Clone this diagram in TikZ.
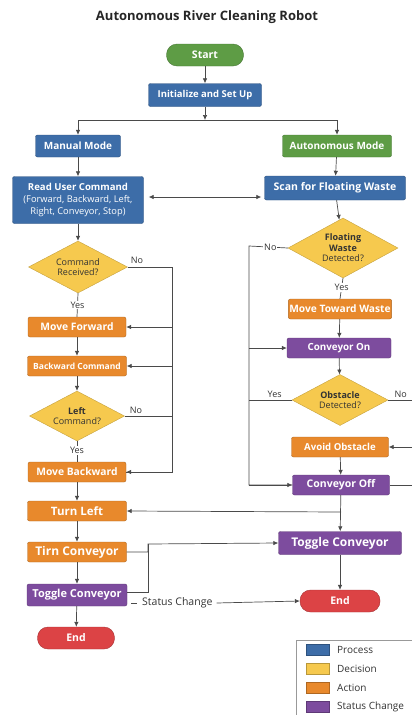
\documentclass[tikz,border=0pt]{standalone}
\usepackage{fontspec}
\setmainfont{Open Sans}
\usetikzlibrary{shapes.geometric,arrows.meta}
\definecolor{procblue}{HTML}{3D6DA8}
\definecolor{startgreen}{HTML}{5E9C45}
\definecolor{decyellow}{HTML}{F6C94E}
\definecolor{actorange}{HTML}{E8892C}
\definecolor{statpurple}{HTML}{7D4C9E}
\definecolor{endred}{HTML}{DC4345}
\definecolor{linegray}{HTML}{4A4A4A}
\newcommand{\fsz}[1]{\fontsize{#1}{#1}\selectfont}
\tikzset{
  boxbase/.style={draw=#1!75!black, fill=#1, rounded corners=2pt, text=white,
    inner sep=1pt, minimum height=20pt, align=center,
    font=\fsz{9.5}\bfseries},
  process/.style={boxbase=procblue},
  action/.style={boxbase=actorange},
  status/.style={boxbase=statpurple},
  terminal/.style={boxbase=#1, rounded corners=10.5pt, minimum height=22pt,
    font=\fsz{10.5}\bfseries},
  decision/.style={draw=decyellow!80!black, fill=decyellow, diamond, aspect=1.9,
    inner sep=0pt, text=black!80, align=center,
    font=\fontsize{9}{10.5}\selectfont},
  line/.style={draw=linegray, line width=0.7pt},
  arr/.style={line, -{Latex[length=5pt,width=4.5pt]}},
  tag/.style={text=black!80, font=\fsz{9}, inner sep=1pt}
}
\begin{document}
\begin{tikzpicture}[x=1pt, y=-1pt]
\useasboundingbox (0,0) rectangle (412,715);
\node[font=\fsz{13}\bfseries, text=black!85] (title) at (207,17) {Autonomous River Cleaning Robot};
% left column
\node[terminal=startgreen, minimum width=77pt] (start) at (205,55) {Start};
\node[process, minimum width=113pt, minimum height=23pt] (init) at (205,95) {Initialize and Set Up};
\coordinate (split) at (205,120);
\node[process, minimum width=85pt, minimum height=22pt, font=\fsz{10}\bfseries] (manual) at (78,146) {Manual Mode};
\node[boxbase=startgreen, minimum width=109pt, minimum height=22pt, font=\fsz{10}\bfseries] (auto) at (337,146) {Autonomous Mode};
\node[process, minimum width=131pt, minimum height=47pt, font=\fontsize{9.6}{12}\selectfont\bfseries] (read) at (78,200)
  {Read User Command\\{\fontsize{9.3}{12}\selectfont\mdseries(Forward, Backward, Left,}\\{\fontsize{9.3}{12}\selectfont\mdseries Right, Conveyor, Stop)}};
\node[decision, minimum width=99pt, minimum height=52pt] (cmdq) at (78,267) {Command\\Received?};
\node[action, minimum width=98pt, font=\fsz{10.3}\bfseries] (fwd) at (77,327) {Move Forward};
\node[action, minimum width=99pt, font=\fsz{8.5}\bfseries] (bwdcmd) at (77,366) {Backward Command};
\node[decision, minimum width=95pt, minimum height=50pt] (leftq) at (77,416) {\textbf{Left}\\Command?};
\node[action, minimum width=98pt, font=\fsz{10.3}\bfseries] (mvback) at (77,472) {Move Backward};
\node[action, minimum width=99pt, font=\fsz{11.5}\bfseries] (turnl) at (77,511) {Turn Left};
\node[action, minimum width=99pt, font=\fsz{12}\bfseries] (tirn) at (77,552) {Tirn Conveyor};
\node[status, minimum width=100pt, minimum height=22pt, font=\fsz{11}\bfseries] (togl) at (77,595) {Toggle Conveyor};
\node[terminal=endred, minimum width=77pt] (endl) at (76,638) {End};
% right column
\node[process, minimum width=141pt, minimum height=24pt, font=\fsz{10.5}\bfseries] (scan) at (335,188) {Scan for Floating Waste};
\node[decision, minimum width=110pt, minimum height=60pt] (floatq) at (343,248) {\textbf{Floating}\\\textbf{Waste}\\Detected?};
\node[action, minimum width=101pt, font=\fsz{10.2}\bfseries] (toward) at (340,309) {Move Toward Waste};
\node[status, minimum width=104pt, font=\fsz{9.8}\bfseries] (convon) at (339,348) {Conveyor On};
\node[decision, minimum width=96pt, minimum height=51pt] (obsq) at (340,400) {\textbf{Obstacle}\\Detected?};
\node[action, minimum width=97pt, font=\fsz{9.6}\bfseries] (avoid) at (340,447) {Avoid Obstacle};
\node[status, minimum width=97pt, font=\fsz{10.5}\bfseries] (convoff) at (341,485) {Conveyor Off};
\node[status, minimum width=123pt, minimum height=23pt, font=\fsz{12}\bfseries] (togr) at (340,543) {Toggle Conveyor};
\node[terminal=endred, minimum width=80pt] (endr) at (340,601) {End};
% rails
\coordinate (lrail) at (172,267);
\coordinate (rrail) at (249,246);
\coordinate (orail) at (416,400);
\coordinate (jn) at (148,544);
\coordinate (offsplit) at (341,512);
% connectors
\draw[arr] (start) -- (init);
\draw[arr] (init) -- (split);
\draw[arr] (split) -| (manual);
\draw[arr] (split) -| (auto);
\draw[arr] (manual) -- (read);
\draw[arr] (auto) -- (scan);
\draw[arr, {Latex[length=5pt,width=4.5pt]}-{Latex[length=5pt,width=4.5pt]}, shorten <=5pt, shorten >=3pt]
  (read.east |- 0,197) -- (scan.west |- 0,197);
\draw[arr] (read) -- (cmdq);
\draw[line] (cmdq.east) -- (lrail) |- (mvback.east);
\draw[arr] (lrail |- fwd.east) -- (fwd.east);
\draw[arr] (lrail |- bwdcmd.east) -- (bwdcmd.east);
\draw[arr] (lrail |- mvback.east) -- (mvback.east);
\draw[line] (leftq.east) -- (lrail |- leftq.east);
\node[tag] at (137,260) {No};
\node[tag] at (136,410) {No};
\draw[line] (cmdq.south) -- node[tag, fill=white] {Yes} (fwd.north);
\draw[arr] (fwd) -- (bwdcmd);
\draw[arr] (bwdcmd) -- (leftq);
\draw[line] (leftq.south) -- node[tag, fill=white, pos=0.45] {Yes} (mvback.north);
\draw[arr] (mvback) -- (turnl);
\draw[arr] (turnl) -- (tirn);
\draw[arr] (tirn) -- (togl);
\draw[arr] (togl) -- (endl);
\draw[arr] (tirn.east) -| (jn) -- (togr.west);
\draw[line] (togl.east) ++(0,-3) -| (jn);
\draw[line] (131,603) -- (137,603);
\node[tag, font=\fsz{10.5}, anchor=west] (sc) at (141,603) {Status Change};
\draw[arr] (sc.east) ++(3,0) -- (endr.west);
% right connectors
\draw[arr] (scan) -- (floatq);
\draw[line] (floatq.west) -- node[tag, fill=white, pos=0.45] {No} (rrail) |- (convoff.west);
\draw[arr] (rrail |- convoff.west) -- (convoff.west);
\draw[arr] (rrail |- convon.west) -- (convon.west);
\draw[line] (floatq.south) -- node[tag, fill=white, pos=0.45] {Yes} (toward.north);
\draw[arr] (toward) -- (convon);
\draw[arr] (convon) -- (obsq);
\draw[line] (obsq.west) -- node[tag, above=1pt, pos=0.4] {Yes} (rrail |- obsq.west);
\draw[line] (obsq.east) -- node[tag, above=1pt, pos=0.45] {No} (orail) |- (convoff.east);
\draw[arr] (orail |- avoid.east) -- (avoid.east);
\draw[arr] (avoid) -- (convoff);
\draw[arr] (convoff) -- (togr);
\draw[arr] (offsplit) -- (turnl.east);
\draw[arr] (togr) -- (endr);
% legend
\draw[draw=black!40, fill=white] (296,640) rectangle (418,720);
\foreach \col/\lab [count=\i] in {procblue/Process, decyellow/Decision, actorange/Action, statpurple/Status Change}{
  \node[draw=\col!75!black, fill=\col, minimum width=23pt, minimum height=11pt, inner sep=0pt] (sw\i) at (317.5,631+19*\i) {};
  \node[tag, font=\fsz{10}, anchor=west] (lb\i) at (336,631+19*\i) {\lab};
}
\end{tikzpicture}
\end{document}
